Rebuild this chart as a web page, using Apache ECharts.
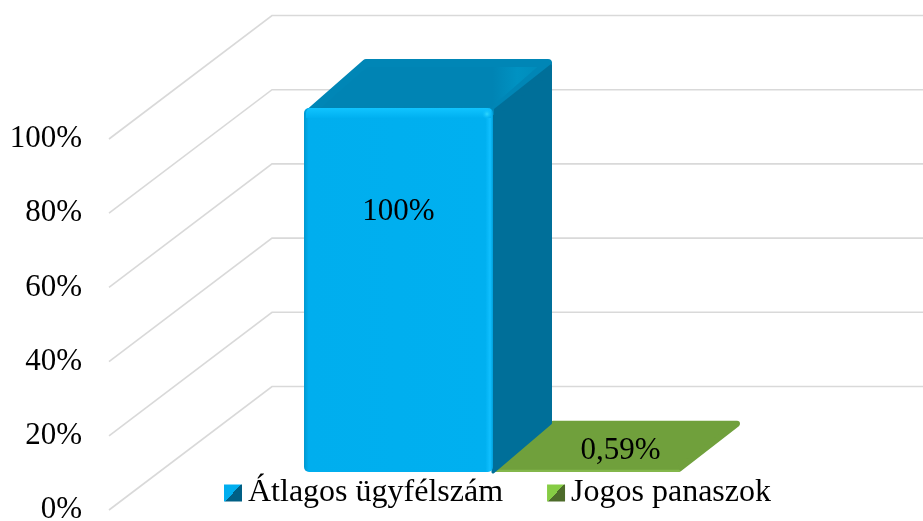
<!DOCTYPE html>
<html><head><meta charset="utf-8">
<style>html,body{margin:0;padding:0;background:#fff}#c{width:923px;height:521px}</style>
<script src="https://cdn.jsdelivr.net/npm/echarts@6/dist/echarts.min.js"></script>
</head><body><div id="c"></div>
<script>
const categories = ['Ügyfelek'];
const seriesNames = ['Átlagos ügyfélszám', 'Jogos panaszok'];
const atlagosUgyfelszam = [100];
const jogosPanaszok = [0.59];
const dataLabels = ['100%', '0,59%'];
const tickValues = [0, 20, 40, 60, 80, 100];

const WALL_X = 163, WALL_Y = -123.5;
const SHIFT_X = 58.5, SHIFT_Y = -38;
const BAR_DX = 59, BAR_DY = -49;
const BAR_W = 189, FRONT_SCALE = 0.981;
const FONT = '"Liberation Serif","Times New Roman",serif';

function grad(x0, y0, x1, y1, stops) {
  return new echarts.graphic.LinearGradient(x0, y0, x1, y1, stops.map(s => ({offset: s[0], color: s[1]})));
}

function wallItem(params, api) {
  const y = api.coord([0, api.value(0)])[1];
  const left = params.coordSys.x;
  const right = left + params.coordSys.width;
  return {
    type: 'polyline', silent: true,
    shape: {points: [[left, y], [left + WALL_X, y + WALL_Y], [right + WALL_X, y + WALL_Y]]},
    style: {stroke: '#d9d9d9', lineWidth: 1.6, fill: null}
  };
}

function blueBar(params, api) {
  const base = api.coord([0, 0]);
  const top = api.coord([0, api.value(1)]);
  const l = base[0] - BAR_W + SHIFT_X, r = l + BAR_W;
  const b = base[1] + SHIFT_Y;
  const t = b - (base[1] - top[1]) * FRONT_SCALE;
  const dx = BAR_DX, dy = BAR_DY;
  const kids = [
    {type: 'polygon', shape: {points: [[r, t], [r + dx - 1.5, t + dy + 4], [r + dx - 1.5, b + dy], [r, b]]},
      style: {fill: '#006f99', stroke: '#006f99', lineWidth: 3, lineJoin: 'round'}},
    {type: 'polygon', shape: {points: [[l + 5, t + 5], [l + 62, t + dy + 4], [r + dx - 4, t + dy + 4], [r, t + 3]]},
      style: {fill: grad(0, 0, 1, 0, [[0, '#0084b4'], [0.76, '#0084b4'], [0.86, '#0092c2'], [1, '#0088b6']]),
        stroke: '#0086b6', lineWidth: 8, lineJoin: 'round'}},
    {type: 'polygon', shape: {points: [[r + 1, t + 1], [r + dx - 1, t + dy + 5], [r + dx - 1, t + dy + 14], [r + 1, t + 10]]},
      style: {fill: '#006f99'}},
    {type: 'rect', shape: {x: l, y: t, width: BAR_W, height: b - t, r: 5},
      style: {fill: grad(0, 0, 1, 0, [[0, '#0098d0'], [0.025, '#00aeee'], [0.96, '#00b0f0'], [0.985, '#10c0ff'], [1, '#00a0dc']])}},
    {type: 'rect', shape: {x: l + 2, y: t, width: BAR_W - 4, height: 10, r: [5, 5, 0, 0]},
      style: {fill: grad(0, 0, 0, 1, [[0, '#10c4ff'], [1, '#00b0f0']])}},
    {type: 'circle', shape: {cx: r - 6, cy: t + 6, r: 5},
      style: {fill: new echarts.graphic.RadialGradient(0.5, 0.5, 0.5, [{offset: 0, color: '#30d8ff'}, {offset: 1, color: 'rgba(16,192,255,0)'}])}},
    {type: 'text', style: {text: dataLabels[0], x: l + BAR_W / 2, y: t + 104, fill: '#000',
      font: '31px ' + FONT, align: 'center', verticalAlign: 'middle'}}
  ];
  return {type: 'group', children: kids};
}

function greenBar(params, api) {
  const base = api.coord([0, 0]);
  const top = api.coord([0, api.value(1)]);
  const l = base[0] + SHIFT_X, r = l + BAR_W;
  const b = base[1] + SHIFT_Y;
  const t = b - (base[1] - top[1]) * FRONT_SCALE;
  const dx = BAR_DX, dy = BAR_DY;
  const kids = [
    {type: 'polygon', shape: {points: [[l + 5, t - 1], [l + dx + 1, t + dy + 3], [r + dx - 4, t + dy + 3], [r - 3, t - 1]]},
      style: {fill: '#70a03c', stroke: '#70a03c', lineWidth: 6, lineJoin: 'round'}},
    {type: 'rect', shape: {x: l + 2, y: t, width: BAR_W - 4, height: b - t, r: 1},
      style: {fill: '#83b74b'}},
    {type: 'text', style: {text: dataLabels[1], x: l + BAR_W / 2 + 33, y: b + dy / 2 + 3, fill: '#000',
      font: '31px ' + FONT, align: 'center', verticalAlign: 'middle'}}
  ];
  return {type: 'group', children: kids};
}

const chart = echarts.init(document.getElementById('c'), null, {renderer: 'canvas'});
chart.setOption({
  animation: false,
  backgroundColor: '#fff',
  grid: {left: 109, top: 139, width: 651, height: 371, outerBoundsMode: 'none'},
  xAxis: {type: 'category', data: categories, show: false},
  yAxis: {type: 'value', min: 0, max: 100, interval: 20,
    axisLine: {show: false}, axisTick: {show: false}, splitLine: {show: false},
    axisLabel: {formatter: '{value}%', color: '#000', fontFamily: FONT, fontSize: 31, margin: 27, padding: [5, 0, 0, 0]}},
  legend: {
    left: 219, top: 472, itemWidth: 18, itemHeight: 17, itemGap: 44,
    textStyle: {color: '#000', fontFamily: FONT, fontSize: 32, padding: [0, 0, 0, 1]},
    data: [
      {name: seriesNames[0], icon: 'rect', itemStyle: {color: grad(0, 0, 1, 1, [[0, '#00aeef'], [0.5, '#00aeef'], [0.5, '#005f85'], [1, '#005f85']])}},
      {name: seriesNames[1], icon: 'rect', itemStyle: {color: grad(0, 0, 1, 1, [[0, '#86cc44'], [0.5, '#86cc44'], [0.5, '#4d6b2a'], [1, '#4d6b2a']])}}
    ]
  },
  series: [
    {type: 'custom', name: 'wall', silent: true, z: 1, clip: false,
      data: tickValues.map(v => [v]), encode: {y: 0}, renderItem: wallItem},
    {type: 'custom', name: seriesNames[1], z: 2, clip: false,
      data: jogosPanaszok.map((v, i) => [i, v]), encode: {x: 0, y: 1},
      renderItem: greenBar, itemStyle: {color: '#92d050'}},
    {type: 'custom', name: seriesNames[0], z: 3, clip: false,
      data: atlagosUgyfelszam.map((v, i) => [i, v]), encode: {x: 0, y: 1},
      renderItem: blueBar, itemStyle: {color: '#00b0f0'}}
  ]
});
</script></body></html>
